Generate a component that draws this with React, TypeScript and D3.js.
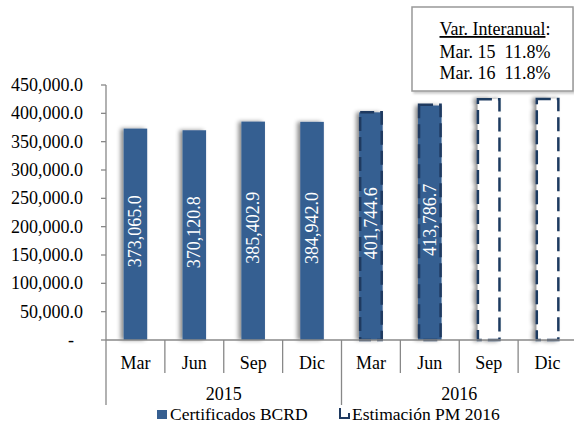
import React from "react";
import * as d3 from "d3";

const months = ["Mar", "Jun", "Sep", "Dic", "Mar", "Jun", "Sep", "Dic"];
const years = ["2015", "2016"];
const certificados: (number | null)[] = [373065.0, 370120.8, 385402.9, 384942.0, 401744.6, 413786.7, null, null];
const estimacion: (number | null)[] = [null, null, null, null, 402000, 415000, 425000, 425500];
const yTicks = [0, 50000, 100000, 150000, 200000, 250000, 300000, 350000, 400000, 450000];
const noteLines = [["Mar. 15", "11.8%"], ["Mar. 16", "11.8%"]];

const W = 574;
const H = 423;
const font = "Liberation Serif, Times New Roman, Tinos, DejaVu Serif, serif";
const barColor = "#365F91";
const dashColor = "#1F3A60";

export default function App() {
  const left = 106;
  const right = 577;
  const top = 85;
  const bottom = 340;

  const y = d3.scaleLinear().domain([0, 450000]).range([bottom, top]);
  const idx = months.map((_, i) => String(i));
  const x = d3.scaleBand().domain(idx).range([left, right]).paddingInner(0.6).paddingOuter(0.3);
  const step = x.step();
  const fmt = d3.format(",.1f");
  const ts = { fontFamily: font, fontSize: 18 };

  return (
    <svg width={W} height={H} style={{ position: "absolute", left: 0, top: 0, background: "#fff" }}>
      <defs>
        <filter id="sh" x="-50%" y="-10%" width="200%" height="120%">
          <feDropShadow dx={-3} dy={0} stdDeviation={2} floodColor="#000" floodOpacity={0.45} />
        </filter>
        <filter id="bsh" x="-5%" y="-5%" width="115%" height="115%">
          <feDropShadow dx={2} dy={2} stdDeviation={1} floodColor="#000" floodOpacity={0.2} />
        </filter>
      </defs>

      {/* note box */}
      <rect x={412} y={7} width={161} height={84} fill="#fff" stroke="#999" strokeWidth={1.5} filter="url(#bsh)" />
      <text x={495} y={35} textAnchor="middle" style={ts} fill="#000">
        <tspan textDecoration="underline">Var. Interanual</tspan>:
      </text>
      {noteLines.map((l, i) => (
        <text key={i} x={495} y={58 + i * 21} textAnchor="middle" style={ts} fill="#000" xmlSpace="preserve">
          {l[0] + "  " + l[1]}
        </text>
      ))}

      {/* y axis */}
      <line x1={left} x2={left} y1={top} y2={405} stroke="#888" strokeWidth={1.3} />
      {yTicks.map((t) => (
        <g key={t}>
          <line x1={left - 5} x2={left} y1={y(t)} y2={y(t)} stroke="#888" strokeWidth={1.3} />
          <text x={t === 0 ? 74 : 83} y={y(t) + 6} textAnchor="end" style={ts} fill="#000">
            {t === 0 ? "-" : fmt(t)}
          </text>
        </g>
      ))}

      {/* bars */}
      {certificados.map((v, i) =>
        v == null ? null : (
          <rect key={"c" + i} x={x(String(i))} y={y(v)} width={x.bandwidth()} height={bottom - y(v)}
            fill={barColor} filter="url(#sh)" />
        )
      )}
      {estimacion.map((v, i) =>
        v == null ? null : (
          <rect key={"e" + i} x={(x(String(i)) as number) + 1} y={y(v)} width={x.bandwidth() - 2} height={bottom - y(v)}
            fill={certificados[i] == null ? "#fff" : "none"} stroke={dashColor} strokeWidth={2.5}
            strokeDasharray="14,6" filter={certificados[i] == null ? "url(#sh)" : undefined} />
        )
      )}
      {certificados.map((v, i) => {
        if (v == null) return null;
        const cx = (x(String(i)) as number) + x.bandwidth() / 2;
        const cy = (y(v) + bottom) / 2 - 3;
        return (
          <text key={"l" + i} transform={`translate(${cx + 6},${cy}) rotate(-90)`} textAnchor="middle"
            style={ts} fill="#fff">
            {fmt(v)}
          </text>
        );
      })}

      {/* x axis */}
      <line x1={left} x2={W} y1={bottom} y2={bottom} stroke="#888" strokeWidth={1.3} />
      {months.map((m, i) => {
        const x0 = left + step * i;
        return (
          <g key={"m" + i}>
            {i > 0 && <line x1={x0} x2={x0} y1={bottom} y2={i === 4 ? 405 : 373} stroke="#888" strokeWidth={1.3} />}
            <text x={x0 + step / 2} y={369} textAnchor="middle" style={ts} fill="#000">{m}</text>
          </g>
        );
      })}
      {years.map((yr, i) => (
        <text key={yr} x={left + step * (i * 4 + 2)} y={400} textAnchor="middle" style={ts} fill="#000">{yr}</text>
      ))}

      {/* legend */}
      <rect x={157} y={410} width={10} height={9} fill={barColor} />
      <text x={170} y={420} style={{ fontFamily: font, fontSize: 17.5 }} fill="#000">Certificados BCRD</text>
      <path d="M340,408 V418 H349 V413" fill="none" stroke={dashColor} strokeWidth={2} />
      <text x={352} y={420} style={{ fontFamily: font, fontSize: 17.5 }} fill="#000">Estimación PM 2016</text>
    </svg>
  );
}
